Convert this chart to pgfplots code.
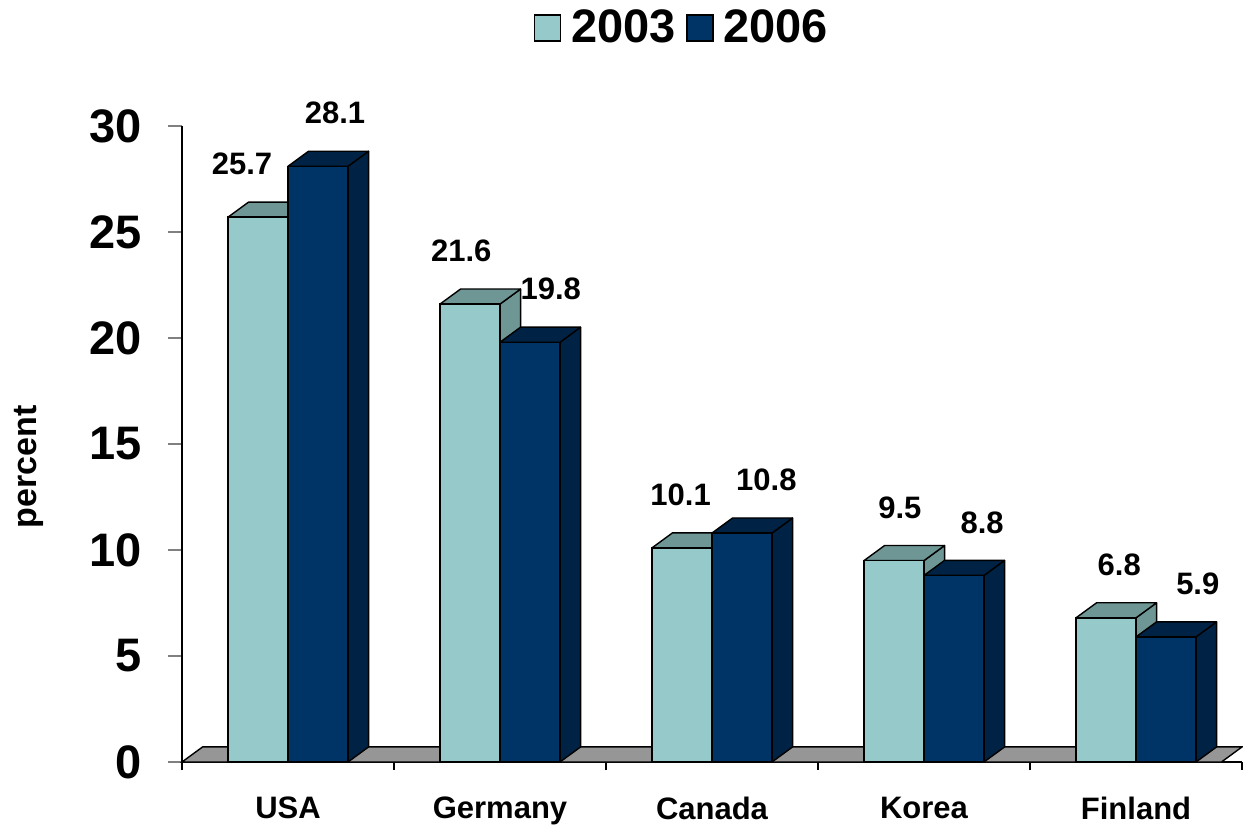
\documentclass[border=0pt]{standalone}
\usepackage{fontspec}
\setmainfont{Liberation Sans}
\usepackage{pgfplots}
\usepackage{pgfplotstable}
\pgfplotsset{compat=1.18}

\definecolor{c2003}{RGB}{150,201,201}
\definecolor{t2003}{RGB}{110,150,148}
\definecolor{c2006}{RGB}{0,51,102}
\definecolor{t2006}{RGB}{0,34,68}
\definecolor{floorgray}{RGB}{150,150,150}

% x = category index, a = 2003, b = 2006
\pgfplotstableread{
x  a     b
0  25.7  28.1
1  21.6  19.8
2  10.1  10.8
3  9.5   8.8
4  6.8   5.9
}\data

\def\bw{0.283}  % bar width (axis units)
\def\dx{0.097}  % depth, x
\def\dy{0.71}   % depth, y

\begin{document}
\begin{tikzpicture}
\begin{axis}[
    width=530pt, height=318pt, scale only axis,
    xmin=-0.5, xmax=4.5, ymin=0, ymax=30,
    clip=false,
    axis x line*=bottom, axis y line*=left,
    axis line style={line width=0.8pt},
    tick align=outside,
    ytick={0,5,...,30},
    ytick style={line width=0.8pt},
    major tick length=7pt,
    yticklabel style={font=\fontsize{23.5}{23.5}\selectfont\bfseries, inner sep=0pt, xshift=-13pt},
    xtick={0,...,4},
    xticklabels={USA,Germany,Canada,Korea,Finland},
    xtick style={draw=none},
    xticklabel style={font=\fontsize{15.5}{15.5}\selectfont\bfseries},
    xticklabel shift=7pt,
    extra x ticks={-0.5,0.5,...,4.5},
    extra x tick labels={},
    extra x tick style={xtick style={draw=black, line width=0.8pt}, major tick length=4pt},
    /pgf/number format/assume math mode=true,
    ylabel={percent},
    ylabel style={at={(axis description cs:-0.144,0.464)}, anchor=center,
        font=\fontsize{17}{17}\selectfont\bfseries},
    legend style={at={(axis description cs:0.4726,1.154)}, anchor=center,
        draw=none, font=\fontsize{23.5}{23.5}\selectfont\bfseries,
        /tikz/every odd column/.append style={column sep=3pt},
        /tikz/every even column/.append style={column sep=3pt}},
    legend columns=2,
]

% floor
\addplot[forget plot, fill=floorgray, draw=black, line width=0.7pt]
    coordinates {(-0.5,0) (4.403,0) (4.5,0.71) (-0.403,0.71)} -- cycle;

% 2003: sides and tops
\pgfplotsinvokeforeach{0,...,4}{
  \pgfplotstablegetelem{#1}{a}\of\data
  \pgfmathsetmacro\hh{\pgfplotsretval}
  \pgfmathsetmacro\hd{\hh+\dy}
  \pgfmathsetmacro\xl{#1-\bw}
  \pgfmathsetmacro\xr{#1}
  \pgfmathsetmacro\xld{\xl+\dx}
  \pgfmathsetmacro\xrd{\xr+\dx}
  \edef\temp{%
    \noexpand\addplot[forget plot, fill=t2003, draw=black, line width=0.7pt, line join=round]
      coordinates {(\xr,0) (\xrd,\dy) (\xrd,\hd) (\xr,\hh)} -- cycle;
    \noexpand\addplot[forget plot, fill=t2003, draw=black, line width=0.7pt, line join=round]
      coordinates {(\xl,\hh) (\xr,\hh) (\xrd,\hd) (\xld,\hd)} -- cycle;}
  \temp
}

\addplot[ybar, bar width=\bw, bar shift=-0.1415, fill=c2003, draw=black, line width=0.7pt,
    legend image code/.code={\draw[fill=c2003, draw=black, line width=0.8pt] (0pt,-6.5pt) rectangle (13pt,6.5pt);},
    visualization depends on={\thisrow{x} \as \xi},
    nodes near coords,
    nodes near coords style={font=\fontsize{15.5}{15.5}\selectfont\bfseries, anchor=center,
        yshift=26.5pt, xshift={(-23+3.65*\xi)*1pt},
        /pgf/number format/fixed, /pgf/number format/fixed zerofill,
        /pgf/number format/precision=1},
] table[x=x, y=a] {\data};
\addlegendentry{2003}

% 2006: sides and tops
\pgfplotsinvokeforeach{0,...,4}{
  \pgfplotstablegetelem{#1}{b}\of\data
  \pgfmathsetmacro\hh{\pgfplotsretval}
  \pgfmathsetmacro\hd{\hh+\dy}
  \pgfmathsetmacro\xl{#1}
  \pgfmathsetmacro\xr{#1+\bw}
  \pgfmathsetmacro\xld{\xl+\dx}
  \pgfmathsetmacro\xrd{\xr+\dx}
  \edef\temp{%
    \noexpand\addplot[forget plot, fill=t2006, draw=black, line width=0.7pt, line join=round]
      coordinates {(\xr,0) (\xrd,\dy) (\xrd,\hd) (\xr,\hh)} -- cycle;
    \noexpand\addplot[forget plot, fill=t2006, draw=black, line width=0.7pt, line join=round]
      coordinates {(\xl,\hh) (\xr,\hh) (\xrd,\hd) (\xld,\hd)} -- cycle;}
  \temp
}

\addplot[ybar, bar width=\bw, bar shift=0.1415, fill=c2006, draw=black, line width=0.7pt,
    legend image code/.code={\draw[fill=c2006, draw=black, line width=0.8pt] (0pt,-6.5pt) rectangle (13pt,6.5pt);},
    visualization depends on={\thisrow{x} \as \xi},
    nodes near coords,
    nodes near coords style={font=\fontsize{15.5}{15.5}\selectfont\bfseries, anchor=center,
        yshift=26.5pt, xshift={(23.5+1.85*\xi)*1pt},
        /pgf/number format/fixed, /pgf/number format/fixed zerofill,
        /pgf/number format/precision=1},
] table[x=x, y=b] {\data};
\addlegendentry{2006}

\end{axis}
\pgfresetboundingbox
\path ([xshift=-91pt,yshift=-31.5pt]current axis.south west)
    rectangle ([xshift=0.5pt,yshift=63pt]current axis.north east);
\end{tikzpicture}
\end{document}
